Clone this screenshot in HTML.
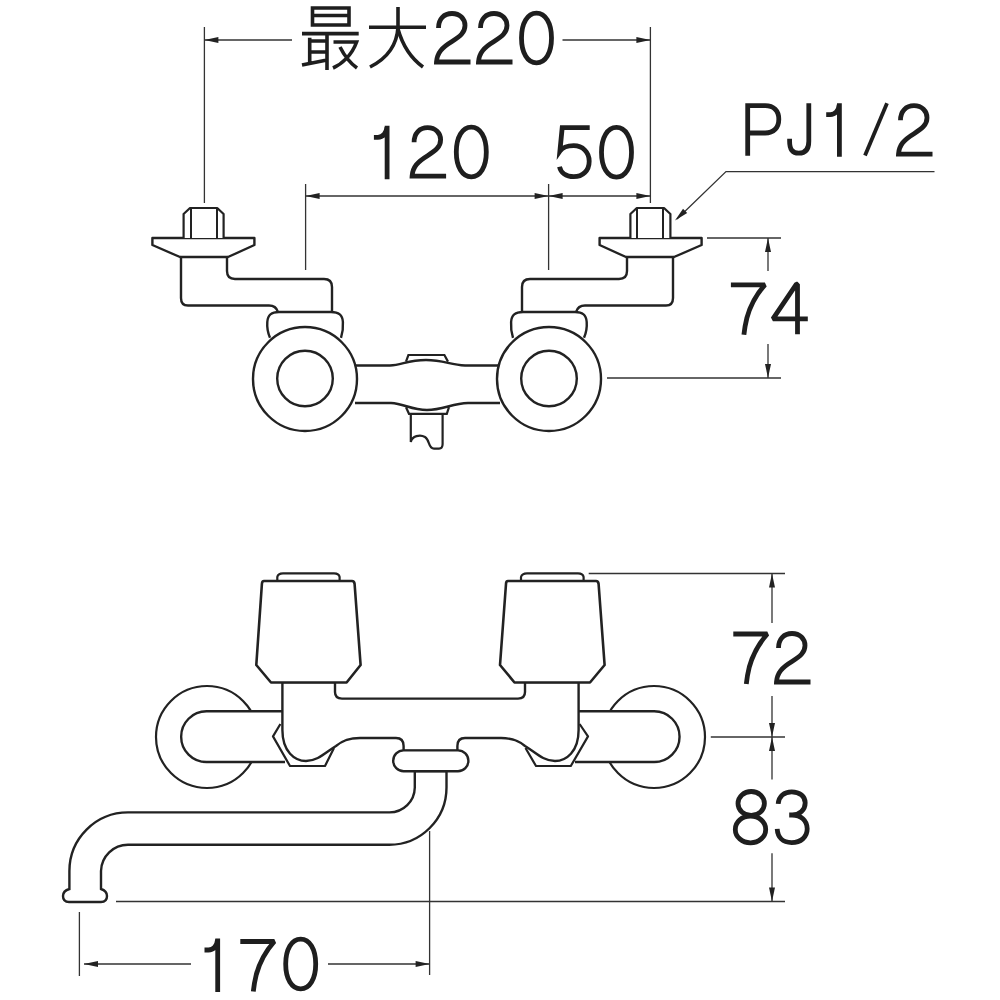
<!DOCTYPE html>
<html><head><meta charset="utf-8">
<style>
html,body{margin:0;padding:0;background:#fff;width:1000px;height:1000px;overflow:hidden;}
svg{display:block;}
text{font-family:"Liberation Sans",sans-serif;fill:#1e1e1e;}
</style></head>
<body>
<svg width="1000" height="1000" viewBox="0 0 1000 1000">
<defs>
<g id="elbow">
  <!-- cap behind circle -->
  <path d="M270,337.8 C267.5,332 267,326 267.3,322 C267.8,315 271,312 279,312 H331 C339,312 342.5,315 342.9,322 C343.2,326 342.8,332 341,337.8" fill="#fff" stroke="#222" stroke-width="2.4"/>
  <!-- elbow body -->
  <path d="M181,257 V298 Q181,305.5 188,305.5 H269 Q276,305.5 278,312" fill="none" stroke="#222" stroke-width="2.4"/>
  <path d="M227,257 V271 Q227,279 235,279 H324 Q332,279 332,287 V312" fill="none" stroke="#222" stroke-width="2.4"/>
  <!-- flange -->
  <path d="M152.4,238 H254.4 V245 L228,257 H180 L152.4,245 Z" fill="#fff" stroke="#222" stroke-width="2.4" stroke-linejoin="round"/>
  <!-- nut -->
  <path d="M183.6,238 V214 L190,208 H217.2 L223.6,214 V238" fill="#fff" stroke="#222" stroke-width="2.2" stroke-linejoin="round"/>
  <path d="M191,208 V238 M217,208 V238" stroke="#222" stroke-width="2"/>
  <!-- circle -->
  <circle cx="305" cy="379" r="52" fill="#fff" stroke="#222" stroke-width="2.4"/>
  <circle cx="305" cy="378.5" r="27.8" fill="none" stroke="#222" stroke-width="2.4"/>
</g>
<g id="g0"><path d="M17.5,2.1000000000000014 C26.50,2.1000000000000014 32.5,12.06 32.5,27 C32.5,41.94 26.50,51.9 17.5,51.9 C8.50,51.9 2.5,41.94 2.5,27 C2.5,12.06 8.50,2.1000000000000014 17.5,2.1000000000000014 Z"/></g>
<g id="g1"><path d="M13.2,0 V53.5 M0,11.5 H4 C9,11.5 12.5,7 13,1.5"/></g>
<g id="g2"><path d="M4.5,17 C4.5,8 10,2.5 18,2.5 C26,2.5 31,8 31,14.5 C31,21.5 26,25.5 18,30.5 C8,36.5 3,42 2.5,51 H36.5"/></g>
<g id="g3"><path d="M2.5,14.5 C3,7 8.5,2.5 16,2.5 C24,2.5 29.5,7 29.5,13.5 C29.5,20.5 24,25.7 16.5,25.7 H13.5 M16.5,25.7 C25,25.7 31.5,31 31.5,39.5 C31.5,48 25,53.3 16,53.3 C7,53.3 2,48 1.5,39.5"/></g>
<g id="g4"><path d="M36.4,37 H1.5 L25,2.4 H26.1 V52.5" stroke-linejoin="bevel"/></g>
<g id="g5"><path d="M32,2.5 H4.5 L2.2,26 C5,22 10,20.5 16,20.5 C25,20.5 31.5,27 31.5,36 C31.5,45.5 25,51.5 16,51.5 C8,51.5 3,47 1.8,41.5"/></g>
<g id="g7"><path d="M0,3 H34 C26,12 19,25 16,36 C14.5,42 13.5,48 13,53" stroke-linejoin="bevel"/></g>
<g id="g8"><ellipse cx="18.2" cy="14.2" rx="13.2" ry="12"/><ellipse cx="17.5" cy="40.1" rx="15.2" ry="13.4"/></g>
<g id="gP"><path d="M2.5,52.5 V2.5 H20 C28.5,2.5 33.6,7.5 33.6,16 C33.6,24.5 28.5,29.8 20,29.8 H2.5"/></g>
<g id="gJ"><path d="M21.5,0 V38 C21.5,46.5 17.5,50 11.5,50 C5,50 2.3,46 2.3,38 V35.5"/></g>
<path id="arr" d="M0,0 L14,-3 L14,3 Z" fill="#222"/>
</defs>

<!-- ===== TOP VIEW ===== -->
<!-- center bar -->
<path d="M355,365.5 H390 C402,365 408,360 426,360 C444,360 450,365 465,365.5 H500" fill="none" stroke="#222" stroke-width="2.4"/>
<path d="M355,403 H391 C404,403.5 411,410 427,410 C443,410 452,403.5 468,403 H500" fill="none" stroke="#222" stroke-width="2.4"/>
<path d="M406,361.6 L408.4,355 H444.4 L448,361.6" fill="none" stroke="#222" stroke-width="2.2"/>
<path d="M406,407.2 L409,413.8 H446.8 L449,407.2" fill="none" stroke="#222" stroke-width="2.2"/>
<path d="M410.8,414 V442 C412,436 420,434 425,437 C430,440 428,448.6 434,448.6 H439 Q442.6,448.6 442.6,444 V414" fill="none" stroke="#222" stroke-width="2.2"/>

<use href="#elbow"/>
<use href="#elbow" transform="translate(854,0) scale(-1,1)"/>

<!-- dimension lines top -->
<g stroke="#333" stroke-width="1.3" fill="none">
  <path d="M204.4,27 V203"/>
  <path d="M650.4,27 V203"/>
  <path d="M204.4,40 H292"/>
  <path d="M562.5,40 H650.4"/>
  <path d="M305.6,184 V270"/>
  <path d="M548.6,184 V270"/>
  <path d="M305.6,196 H650.4"/>
  <path d="M707,238 H781"/>
  <path d="M607,378 H781"/>
  <path d="M768,238 V271 M768,344 V378"/>
  <path d="M934.5,171.6 H726 L677,219"/>
</g>
<g fill="#222">
  <use href="#arr" transform="translate(204.4,40)"/>
  <use href="#arr" transform="translate(650.4,40) rotate(180)"/>
  <use href="#arr" transform="translate(305.6,196)"/>
  <use href="#arr" transform="translate(548.6,196) rotate(180)"/>
  <use href="#arr" transform="translate(548.6,196)"/>
  <use href="#arr" transform="translate(650.4,196) rotate(180)"/>
  <use href="#arr" transform="translate(768,238) rotate(90)"/>
  <use href="#arr" transform="translate(768,378) rotate(-90)"/>
  <use href="#arr" transform="translate(675,220.5) rotate(-43.8)"/>
</g>

<!-- texts top -->

<!-- 最大 glyphs -->
<g stroke="#1e1e1e" stroke-width="3.6" fill="none" stroke-linecap="butt">
  <path d="M312.5,8 H349 V25 H312.5 Z M312.5,15.5 H349"/>
  <path d="M302,33.6 H358.7"/>
  <path d="M309.7,37.8 V63 M327,35 V70 M310,41 H327 M310,52 H327 M302,65 L327,60"/>
  <path d="M333.5,42 H356.6 C352,55 342,64 333,68 M340,47 C345,57 350,63 357,68"/>
  <path d="M369,27.3 H426"/>
  <path d="M398,7 V27 C397,45 388,58 370,67"/>
  <path d="M398,29 C403,47 412,59 423,67"/>
</g>

<!-- ===== BOTTOM VIEW ===== -->
<!-- flange discs -->
<circle cx="207" cy="737" r="51" fill="#fff" stroke="#222" stroke-width="2.2"/>
<circle cx="654" cy="737" r="51" fill="#fff" stroke="#222" stroke-width="2.2"/>
<!-- pipes -->
<path d="M286,762 H206.5 A25.35,25.35 0 0 1 206.5,711.3 H286 Z" fill="#fff" stroke="none"/>
<path d="M285,762 H206.5 A25.35,25.35 0 0 1 206.5,711.3 H282" fill="none" stroke="#222" stroke-width="2.4"/>
<path d="M575,762 H654.2 A25.35,25.35 0 0 0 654.2,711.3 H579" fill="#fff" stroke="#222" stroke-width="2.4"/>
<!-- hex nuts -->
<path d="M280.4,724 L273,736.4 L290,766 H325 L334,748" fill="none" stroke="#222" stroke-width="2.2" stroke-linejoin="round"/>
<path d="M579.6,724 L588,736.4 L570.8,766 H536 L525.5,748" fill="none" stroke="#222" stroke-width="2.2" stroke-linejoin="round"/>
<!-- body -->
<path d="M282.4,682 V730 C282.4,752 295,761 306,761 C318,761 326,752 336,746 C342,741 348,738 360,738 H396 Q403.6,738 403.6,746 V751 H457.4 V746 Q457.4,738 465,738 H501 C513,738 519,741 525,746 C535,752 543,761 555,761 C566,761 578.6,752 578.6,730 V682 H525 V692 Q525,698.6 518,698.6 H342 Q335,698.6 335,692 V682 Z" fill="#fff" stroke="#222" stroke-width="2.4"/>
<!-- knobs -->
<path d="M277.3,581 V577 Q278,573.3 283,573.3 H334 Q339,573.3 339.6,577 V581" fill="#fff" stroke="#222" stroke-width="2.2"/>
<path d="M264,581 H352 Q354.3,581 354.6,584 L360.6,665 L346.6,682.5 H271 L256.3,665 L261.9,584 Q262,581 264,581 Z" fill="#fff" stroke="#222" stroke-width="2.6" stroke-linejoin="round"/>
<path d="M521,581 V577 Q522,573.3 527,573.3 H578 Q583,573.3 583.6,577 V581" fill="#fff" stroke="#222" stroke-width="2.2"/>
<path d="M508,581 H596 Q598.3,581 598.6,584 L604.6,665 L590,682.5 H514.5 L500,665 L506,584 Q506,581 508,581 Z" fill="#fff" stroke="#222" stroke-width="2.6" stroke-linejoin="round"/>
<!-- spout -->
<path d="M446.5,771 V787.5 A57.3,57.3 0 0 1 389.2,844.8 H128 A27,27 0 0 0 101,871 V889 C104,890 107,892 107,896 C107,900 105,902 101,902 H69 C65,902 63,900 63,896 C63,892 66,890 69.4,889 V871 A58.6,58.6 0 0 1 128,812.4 H389.5 A25.3,25.3 0 0 0 414.8,787.5 V771 Z" fill="#fff" stroke="#222" stroke-width="2.4"/>
<rect x="393.2" y="750.4" width="75.2" height="20.8" rx="10.4" fill="#fff" stroke="#222" stroke-width="2.4"/>

<!-- dimension lines bottom -->
<g stroke="#333" stroke-width="1.3" fill="none">
  <path d="M588.7,573.5 H785"/>
  <path d="M710.8,737 H785"/>
  <path d="M116,901.5 H785"/>
  <path d="M772,573.5 V623 M772,696 V737 M772,737 V779.5 M772,853.3 V901.5"/>
  <path d="M79.4,912 V976"/>
  <path d="M429.6,831 V975"/>
  <path d="M84,964 H191 M328,964 H429.6"/>
</g>
<g fill="#222">
  <use href="#arr" transform="translate(772,573.5) rotate(90)"/>
  <use href="#arr" transform="translate(772,737) rotate(-90)"/>
  <use href="#arr" transform="translate(772,737) rotate(90)"/>
  <use href="#arr" transform="translate(772,901.5) rotate(-90)"/>
  <use href="#arr" transform="translate(84,964)"/>
  <use href="#arr" transform="translate(429.6,964) rotate(180)"/>
</g>
<!-- texts -->
<g fill="none" stroke="#1e1e1e" stroke-width="4.8">
  <use href="#g2" x="434" y="11"/><use href="#g2" x="476" y="11"/><use href="#g0" x="519" y="11"/>
  <use href="#g1" x="373.9" y="125.8"/><use href="#g2" x="409.6" y="125.2"/><use href="#g0" x="453.8" y="125"/>
  <use href="#g5" x="557.7" y="125.2"/><use href="#g0" x="599" y="125.2"/>
  <use href="#gP" x="745.2" y="103.2"/><use href="#gJ" x="787.3" y="103.2"/><use href="#g1" x="826.2" y="103.2"/>
  <path d="M887,103.2 L865,155.5" stroke-width="3.8"/><use href="#g2" x="896" y="103.2"/>
  <use href="#g7" x="730.9" y="281.8"/><use href="#g4" x="771.4" y="281.8"/>
  <use href="#g7" x="733.3" y="631"/><use href="#g2" x="774" y="631"/>
  <use href="#g8" x="733" y="789.3"/><use href="#g3" x="775.7" y="789.3"/>
  <use href="#g1" x="204.5" y="938.5"/><use href="#g7" x="240.3" y="938.5"/><use href="#g0" x="283.2" y="937"/>
</g>
</svg>
</body></html>
